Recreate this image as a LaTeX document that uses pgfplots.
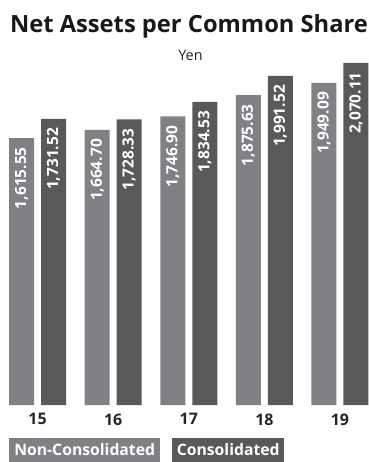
\documentclass[border=0pt]{standalone}
\usepackage{pgfplots}
\pgfplotsset{compat=1.18}
\usepackage{fontspec}
\setmainfont{Open Sans}
\definecolor{lightbar}{RGB}{128,129,132}
\definecolor{darkbar}{RGB}{88,89,91}
\begin{document}
\begin{tikzpicture}
\begin{axis}[name=ax, scale only axis, width=368.2bp, height=342bp,
  xmin=-0.49, xmax=4.38, ymin=0, ymax=2070.11,
  axis line style={draw=none}, major tick length=0pt,
  ytick=\empty, xtick={0,1,2,3,4}, xticklabels={15,16,17,18,19},
  xticklabel style={font=\bfseries\fontsize{16}{16}\selectfont, text=black!85, yshift=-5bp},
  ybar, bar width=25bp,
  nodes near coords={\pgfmathprintnumber[fixed, fixed zerofill, precision=2, 1000 sep={,}, assume math mode=true]{\pgfplotspointmeta}},
  nodes near coords style={rotate=90, anchor=east, text=white, font=\bfseries\fontsize{15.5}{15.5}\selectfont, inner xsep=9bp},
  point meta=y,
  clip=false]
\addplot[fill=lightbar, draw=none, bar shift=-16bp] coordinates {(0,1615.55) (1,1664.70) (2,1746.90) (3,1875.63) (4,1949.09)};
\addplot[fill=darkbar, draw=none, bar shift=16bp] coordinates {(0,1731.52) (1,1728.33) (2,1834.53) (3,1991.52) (4,2070.11)};
\end{axis}
\node[anchor=base, font=\bfseries\fontsize{23.8}{23.8}\selectfont, text=black!90] at ([xshift=188.5bp, yshift=372bp]ax.south west) {Net Assets per Common Share};
\node[anchor=base, font=\fontsize{14.5}{14.5}\selectfont, text=black!85] at ([xshift=190bp, yshift=344bp]ax.south west) {Yen};
\node[anchor=south west, fill=lightbar, text=white, minimum width=151bp, minimum height=24bp, inner sep=0pt, font=\bfseries\fontsize{15.8}{15.8}\selectfont] at ([xshift=8.5bp, yshift=-57bp]ax.south west) {Non-Consolidated};
\node[anchor=south west, fill=darkbar, text=white, minimum width=112bp, minimum height=24bp, inner sep=0pt, font=\bfseries\fontsize{15.8}{15.8}\selectfont] at ([xshift=171.5bp, yshift=-57bp]ax.south west) {Consolidated};
\pgfresetboundingbox
\path ([xshift=-0.5bp, yshift=405bp]ax.south west) rectangle ([xshift=368.5bp, yshift=-57bp]ax.south west);
\end{tikzpicture}
\end{document}
